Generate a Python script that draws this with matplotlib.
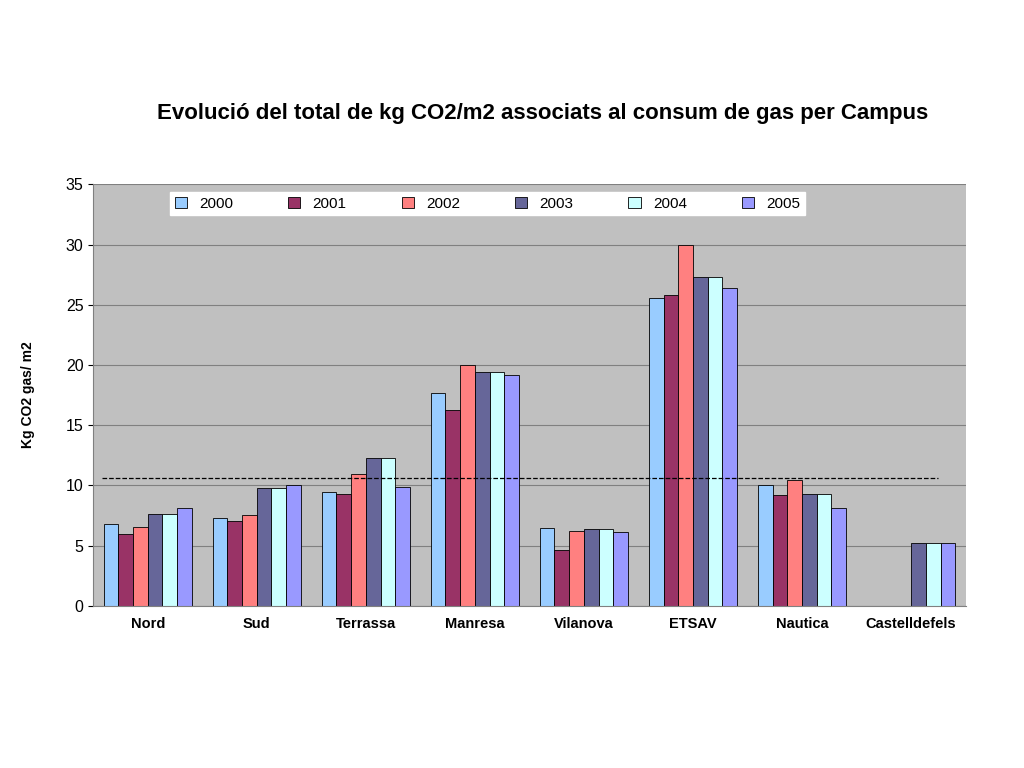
import numpy as np
import matplotlib
matplotlib.use("Agg")
import matplotlib.pyplot as plt

campuses = ["Nord", "Sud", "Terrassa", "Manresa", "Vilanova", "ETSAV", "Nautica", "Castelldefels"]
years = ["2000", "2001", "2002", "2003", "2004", "2005"]
v2000 = [6.8, 7.3, 9.45, 17.7, 6.45, 25.6, 10.05, np.nan]
v2001 = [6.0, 7.05, 9.3, 16.3, 4.65, 25.8, 9.2, np.nan]
v2002 = [6.55, 7.55, 10.95, 20.0, 6.2, 30.0, 10.45, np.nan]
v2003 = [7.6, 9.8, 12.3, 19.4, 6.4, 27.3, 9.3, 5.2]
v2004 = [7.6, 9.8, 12.3, 19.4, 6.4, 27.3, 9.3, 5.2]
v2005 = [8.1, 10.0, 9.9, 19.2, 6.15, 26.4, 8.1, 5.2]
mean_line = 10.6

series = [v2000, v2001, v2002, v2003, v2004, v2005]
colors = ["#99CCFF", "#993366", "#FF8080", "#666699", "#CCFFFF", "#9999FF"]

plt.rcParams["font.family"] = "Liberation Sans"
fig = plt.figure(figsize=(10.24, 7.68), dpi=100)
ax = fig.add_axes([0.091, 0.211, 0.852, 0.549])
ax.set_facecolor("#C0C0C0")

x = np.arange(len(campuses))
w = 0.135
for i, (vals, c) in enumerate(zip(series, colors)):
    ax.bar(x + (i - 2.5) * w, vals, w, color=c, edgecolor="black", linewidth=0.6, label=years[i])

ax.plot([-0.42, 7.25], [mean_line, mean_line], "k--", linewidth=0.9)

ax.set_xlim(-0.5, 7.5)
ax.set_ylim(0, 35)
ax.set_yticks(range(0, 36, 5))
ax.yaxis.grid(True, color="#808080", linewidth=0.8)
ax.set_axisbelow(True)
for s in ["top", "right"]:
    ax.spines[s].set_visible(False)
ax.spines["left"].set_color("#808080")
ax.spines["bottom"].set_color("#808080")
ax.set_xticks(x)
ax.set_xticklabels(campuses, fontsize=10.5, fontweight="bold")
ax.tick_params(axis="y", labelsize=11.5)
ax.tick_params(axis="x", length=0, pad=8)
ax.set_ylabel("Kg CO2 gas/ m2", fontsize=10, fontweight="bold", labelpad=22)

leg = ax.legend(loc="upper center", ncol=6, bbox_to_anchor=(0.452, 1.0), frameon=True,
                fancybox=False, edgecolor="white", prop={"size": 11},
                handlelength=0.8, handleheight=0.8, columnspacing=3.6, borderpad=0.3)
leg.get_frame().set_facecolor("white")
leg.get_frame().set_alpha(1)

fig.text(0.53, 0.845, "Evolució del total de kg CO2/m2 associats al consum de gas per Campus",
         ha="center", fontsize=16, fontweight="bold")

fig.savefig("out.png", dpi=100)
